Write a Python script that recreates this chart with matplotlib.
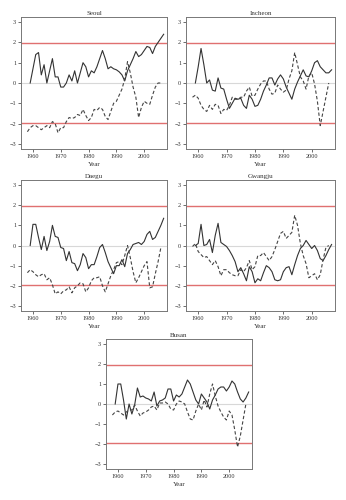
import matplotlib
matplotlib.use("Agg")
import matplotlib.pyplot as plt
import numpy as np

plt.rcParams['font.family'] = ['Liberation Serif', 'DejaVu Serif']

years_solid = np.arange(1959, 2008)
years_dash = np.arange(1958, 2007)

seoul_solid = [0, 0.7, 1.4, 1.5, 0.4, 0.9, 0.0, 0.6, 1.2, 0.3, 0.3, -0.2, -0.2, 0.0, 0.4,
               0.1, 0.6, 0.0, 0.5, 1.0, 0.8, 0.3, 0.6, 0.5, 0.8, 1.2, 1.6, 1.2, 0.7, 0.8,
               0.7, 0.65, 0.55, 0.4, 0.1, 0.6, 0.9, 1.2, 1.55, 1.3, 1.4, 1.6, 1.8, 1.75,
               1.45, 1.8, 2.0, 2.2, 2.4]
seoul_dash = [-2.4, -2.2, -2.1, -2.1, -2.2, -2.3, -2.2, -2.1, -2.2, -1.9, -2.0, -2.45, -2.2,
              -2.2, -1.9, -1.7, -1.75, -1.7, -1.55, -1.6, -1.3, -1.6, -1.85, -1.7, -1.3,
              -1.35, -1.2, -1.3, -1.65, -1.8, -1.4, -1.0, -0.9, -0.6, -0.3, 0.2, 1.05, 0.5,
              -0.2, -0.7, -1.7, -1.2, -0.9, -1.0, -1.05, -0.6, -0.2, 0.0, 0.0]

incheon_solid = [0, 0.8, 1.7, 0.9, 0.0, 0.15, -0.35, -0.4, 0.25, -0.25, -0.3, -0.8, -1.25,
                 -1.0, -0.75, -0.8, -0.75, -1.1, -1.25, -0.6, -0.8, -1.15, -1.1, -0.8, -0.4,
                 -0.1, 0.25, 0.25, -0.1, 0.2, 0.4, 0.2, -0.2, -0.5, -0.8, -0.3, 0.05, 0.35,
                 0.65, 0.35, 0.3, 0.6, 1.0, 1.1, 0.8, 0.65, 0.5, 0.5, 0.65]
incheon_dash = [-0.7, -0.6, -0.75, -1.1, -1.3, -1.4, -1.1, -1.3, -1.05, -1.1, -1.5, -1.3,
                -1.35, -1.1, -0.7, -0.8, -0.8, -0.7, -0.7, -0.4, -0.2, -0.65, -0.6, -0.3,
                -0.05, 0.1, 0.1, -0.3, -0.55, -0.5, -0.1, -0.3, -0.45, -0.35, 0.2, 0.6, 1.5,
                0.9, 0.3, 0.1, -0.3, 0.35, 0.5, -0.05, -0.9, -2.1, -1.4, -0.7, 0.0]

daegu_solid = [0, 1.05, 1.05, 0.4, -0.2, 0.45, -0.25, 0.2, 1.0, 0.45, 0.4, -0.1, -0.15,
               -0.75, -0.3, -0.85, -0.9, -1.25, -0.95, -0.4, -0.6, -1.15, -0.95, -0.95,
               -0.55, -0.1, 0.05, -0.35, -0.8, -1.1, -1.4, -1.0, -1.0, -0.7, -1.05, -0.4,
               -0.2, 0.05, 0.1, 0.15, 0.05, 0.2, 0.55, 0.7, 0.3, 0.4, 0.7, 1.0, 1.35]
daegu_dash = [-1.35, -1.2, -1.3, -1.45, -1.55, -1.45, -1.4, -1.7, -1.6, -1.95, -2.4, -2.3,
              -2.4, -2.25, -2.2, -2.05, -2.35, -2.1, -2.0, -1.85, -1.9, -2.3, -2.1, -1.75,
              -1.6, -1.6, -1.55, -2.0, -2.3, -1.9, -1.5, -1.2, -0.85, -0.8, -0.95, -0.5,
              0.0, -0.6, -1.3, -1.85, -1.6, -1.3, -1.0, -0.8, -2.1, -2.05, -1.4, -0.8, -0.1]

gwangju_solid = [0, 0.1, 1.05, 0.0, 0.05, 0.3, -0.35, 0.5, 1.1, 0.15, 0.05, -0.05, -0.25,
                 -0.5, -0.8, -1.3, -1.1, -1.4, -1.75, -1.05, -1.3, -1.85, -1.65, -1.75,
                 -1.35, -1.0, -1.1, -1.3, -1.7, -1.75, -1.7, -1.3, -1.1, -1.05, -1.45,
                 -0.95, -0.5, -0.15, 0.0, 0.25, 0.05, -0.15, 0.0, -0.25, -0.65, -0.75,
                 -0.5, -0.2, 0.05]
gwangju_dash = [-0.05, 0.1, -0.3, -0.45, -0.6, -0.55, -0.75, -0.95, -0.75, -1.05, -1.5,
                -1.2, -1.2, -1.35, -1.45, -1.5, -1.5, -1.2, -1.3, -1.1, -0.75, -1.2, -1.05,
                -0.5, -0.5, -0.35, -0.55, -0.75, -0.55, -0.2, 0.2, 0.6, 0.7, 0.35, 0.5,
                0.65, 1.5, 1.0, 0.1, -0.5, -0.9, -1.6, -1.5, -1.4, -1.7, -1.45, -0.7, -0.1,
                0.0]

busan_solid = [0, 1.0, 1.0, 0.2, -0.75, 0.0, -0.5, -0.05, 0.8, 0.35, 0.4, 0.3, 0.25, 0.15,
               0.6, -0.1, 0.15, 0.2, 0.3, 0.75, 0.75, 0.15, 0.45, 0.35, 0.5, 0.85, 1.2, 1.0,
               0.6, 0.2, 0.0, 0.5, 0.3, 0.1, -0.25, 0.2, 0.45, 0.75, 0.85, 0.85, 0.65, 0.85,
               1.15, 1.0, 0.6, 0.25, 0.1, 0.3, 0.6]
busan_dash = [-0.55, -0.4, -0.35, -0.45, -0.55, -0.4, -0.3, -0.3, -0.05, -0.35, -0.6, -0.45,
              -0.4, -0.3, -0.15, -0.1, -0.3, 0.05, 0.05, 0.1, 0.0, -0.25, -0.3, 0.0, 0.15,
              0.1, 0.0, -0.4, -0.75, -0.8, -0.35, 0.0, -0.3, 0.2, -0.15, 0.5, 1.0, 0.4,
              -0.1, -0.4, -0.65, -0.8, -0.35, -0.55, -1.3, -2.15, -1.6, -0.8, 0.0]

cities = ['Seoul', 'Incheon', 'Daegu', 'Gwangju', 'Busan']
solid = [seoul_solid, incheon_solid, daegu_solid, gwangju_solid, busan_solid]
dashed = [seoul_dash, incheon_dash, daegu_dash, gwangju_dash, busan_dash]

W, H = 346, 500
# axes boxes in pixels: left, top, right, bottom
boxes = [(21, 17, 167, 149), (186, 17, 335, 149),
         (21, 180, 167, 311), (186, 180, 335, 311),
         (106, 339, 252, 469)]

fig = plt.figure(figsize=(W / 100, H / 100), dpi=100)

for name, s, d, (l, t, r, b) in zip(cities, solid, dashed, boxes):
    ax = fig.add_axes([l / W, 1 - b / H, (r - l) / W, (b - t) / H])
    ax.axhline(0, color='#d8d8d8', lw=0.8, zorder=1)
    for lev in (1.96, -1.96):
        ax.axhline(lev, color='#e07070', lw=1.0, zorder=1)
    ax.plot(years_solid, s, color='#333333', lw=0.8, zorder=3)
    ax.plot(years_dash, d, color='#444444', lw=0.8, ls=(0, (3, 2)), zorder=3)
    ax.set_xlim(1955.7, 2008.2)
    ax.set_ylim(-3.25, 3.25)
    ax.set_xticks([1960, 1970, 1980, 1990, 2000])
    ax.set_yticks([-3, -2, -1, 0, 1, 2, 3])
    ax.tick_params(labelsize=4.5, length=2, width=0.5, pad=1.5, colors='#333333')
    for sp in ax.spines.values():
        sp.set_color('#777777')
        sp.set_linewidth(0.7)
    ax.set_title(name, fontsize=5, pad=1.5, color='#333333')
    ax.set_xlabel('Year', fontsize=5, labelpad=2, color='#333333')

fig.savefig('out.png', dpi=100, facecolor='white')
